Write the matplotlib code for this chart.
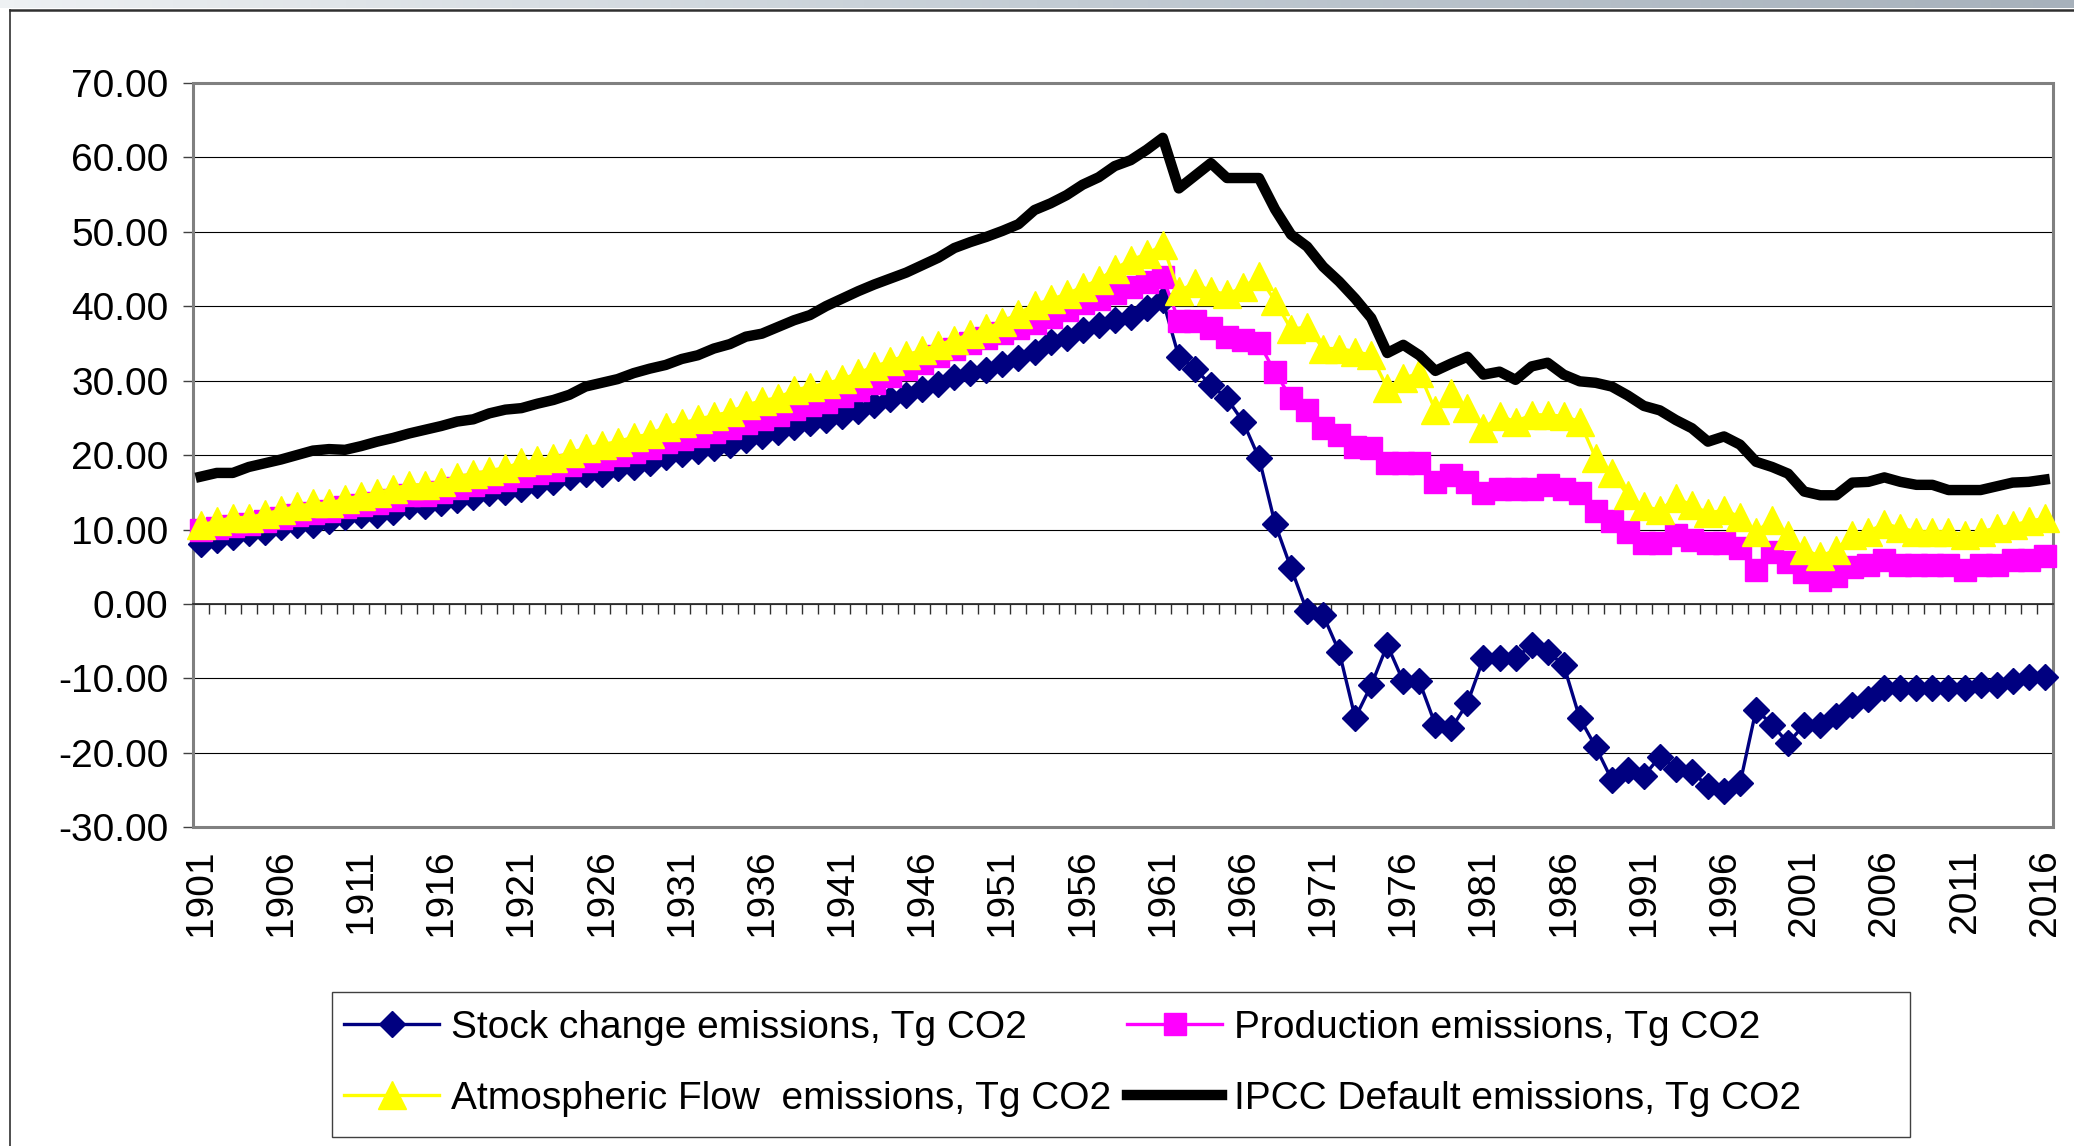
import numpy as np
import matplotlib
matplotlib.use("Agg")
import matplotlib.pyplot as plt
from matplotlib.lines import Line2D
from matplotlib.patches import Rectangle
from matplotlib.colors import LinearSegmentedColormap

plt.rcParams['font.family'] = ['Liberation Sans', 'DejaVu Sans']

years = list(range(1901, 2017))

stock = [8.1, 8.6, 9.0, 9.5, 9.7, 10.4, 10.6, 10.6, 11.1, 11.7,
         12.0, 12.0, 12.4, 13.1, 13.1, 13.5, 14.0, 14.4, 14.9, 15.1,
         15.5, 16.0, 16.4, 17.1, 17.5, 17.5, 18.2, 18.4, 18.9, 19.8,
         20.2, 20.5, 20.9, 21.4, 22.0, 22.5, 23.1, 23.8, 24.3, 24.7,
         25.3, 25.9, 26.7, 27.5, 28.0, 28.9, 29.6, 30.5, 31.0, 31.4,
         32.2, 33.0, 33.8, 35.2, 35.7, 36.8, 37.4, 38.1, 38.6, 39.8,
         40.8, 33.2, 31.6, 29.4, 27.6, 24.5, 19.6, 10.8, 4.8, -1.0,
         -1.5, -6.4, -15.3, -10.9, -5.5, -10.4, -10.4, -16.2, -16.7, -13.3,
         -7.3, -7.3, -7.3, -5.5, -6.4, -8.2, -15.3, -19.2, -23.6, -22.3,
         -23.1, -20.5, -22.1, -22.5, -24.5, -25.1, -24.1, -14.2, -16.2, -18.7,
         -16.2, -16.2, -15.1, -13.6, -12.7, -11.3, -11.3, -11.3, -11.3, -11.3,
         -11.3, -10.9, -10.9, -10.4, -9.8, -9.8]

production = [10.0, 10.2, 10.5, 10.8, 11.1, 11.6, 12.0, 12.2, 12.5, 13.0,
              13.3, 13.6, 14.0, 14.6, 14.7, 15.0, 15.6, 16.0, 16.4, 16.7,
              17.2, 17.6, 18.0, 18.7, 19.2, 19.5, 20.0, 20.4, 20.9, 21.8,
              22.2, 22.6, 23.1, 23.6, 24.3, 24.9, 25.4, 26.2, 26.7, 27.1,
              27.9, 28.8, 29.7, 30.6, 31.5, 32.4, 33.3, 34.2, 35.0, 35.7,
              36.4, 37.1, 37.7, 38.5, 39.5, 40.4, 41.0, 41.7, 42.5, 43.2,
              43.9, 38.0, 38.0, 37.0, 35.9, 35.5, 35.1, 31.1, 27.7, 26.0,
              23.6, 22.7, 21.1, 20.9, 18.9, 18.9, 18.9, 16.4, 17.3, 16.4,
              14.9, 15.5, 15.5, 15.5, 16.0, 15.5, 14.9, 12.5, 11.2, 9.6,
              8.2, 8.2, 9.3, 8.6, 8.2, 8.2, 7.5, 4.6, 7.0, 5.7,
              4.3, 3.2, 3.7, 5.0, 5.2, 5.9, 5.2, 5.2, 5.2, 5.2,
              4.6, 5.2, 5.2, 5.9, 5.9, 6.4]

atmospheric = [10.6, 11.1, 11.6, 11.6, 12.1, 12.6, 13.1, 13.5, 13.5, 14.1,
               14.5, 14.9, 15.5, 16.0, 16.0, 16.4, 17.1, 17.5, 17.9, 18.3,
               19.0, 19.3, 19.6, 20.3, 20.9, 21.4, 21.8, 22.4, 22.8, 23.8,
               24.3, 24.8, 25.3, 25.8, 26.7, 27.3, 27.7, 28.7, 29.2, 29.6,
               30.2, 31.0, 31.9, 32.6, 33.4, 34.1, 34.8, 35.5, 36.2, 37.0,
               37.9, 39.0, 40.2, 40.9, 41.6, 42.6, 43.5, 45.0, 46.2, 47.0,
               48.2, 42.0, 43.1, 42.0, 41.6, 42.5, 44.0, 40.7, 36.9, 37.2,
               34.3, 34.3, 33.9, 33.4, 29.0, 30.3, 31.0, 26.0, 28.3, 26.3,
               23.6, 25.2, 24.5, 25.4, 25.4, 25.2, 24.5, 19.6, 17.6, 14.6,
               13.1, 12.6, 14.2, 13.3, 12.2, 12.6, 11.7, 9.7, 11.3, 9.3,
               7.3, 6.4, 7.3, 9.3, 9.7, 10.8, 10.2, 9.7, 9.7, 9.7,
               9.3, 9.7, 10.2, 10.6, 11.1, 11.5]

ipcc = [17.1, 17.6, 17.6, 18.4, 18.9, 19.4, 20.0, 20.6, 20.8, 20.7,
        21.2, 21.8, 22.3, 22.9, 23.4, 23.9, 24.5, 24.8, 25.6, 26.1,
        26.3, 26.9, 27.4, 28.1, 29.2, 29.7, 30.2, 31.0, 31.6, 32.1,
        32.9, 33.4, 34.3, 34.9, 35.9, 36.3, 37.2, 38.1, 38.8, 40.0,
        41.0, 42.0, 42.9, 43.7, 44.5, 45.5, 46.5, 47.8, 48.6, 49.3,
        50.1, 51.0, 52.9, 53.8, 54.9, 56.3, 57.3, 58.8, 59.6, 61.0,
        62.6, 55.8, 57.5, 59.2, 57.2, 57.2, 57.2, 53.0, 49.6, 48.0,
        45.3, 43.3, 41.0, 38.4, 33.7, 34.8, 33.4, 31.3, 32.3, 33.2,
        30.8, 31.2, 30.1, 31.9, 32.4, 30.8, 29.9, 29.7, 29.2, 28.0,
        26.6, 26.0, 24.7, 23.6, 21.8, 22.5, 21.4, 19.1, 18.4, 17.5,
        15.1, 14.6, 14.6, 16.3, 16.4, 17.0, 16.4, 16.0, 16.0, 15.3,
        15.3, 15.3, 15.8, 16.3, 16.4, 16.7]

labels = ["Stock change emissions, Tg CO2",
          "Production emissions, Tg CO2",
          "Atmospheric Flow  emissions, Tg CO2",
          "IPCC Default emissions, Tg CO2"]

y_ticks = [-30, -20, -10, 0, 10, 20, 30, 40, 50, 60, 70]

W, H = 2074, 1146
fig = plt.figure(figsize=(W / 100, H / 100), dpi=100)

# slide-like header strip and frame
band = fig.add_axes([0, 1 - 8.5 / H, 1, 8.5 / H])
band.imshow(np.linspace(0, 1, 300)[None, :], aspect='auto',
            cmap=LinearSegmentedColormap.from_list('b', ['#eef1f3', '#c3ccd4', '#a7b1bb']))
band.axis('off')
fig.add_artist(Line2D([10 / W, 1], [1 - 9.5 / H] * 2, transform=fig.transFigure, color='#303030', lw=1.8))
fig.add_artist(Line2D([10 / W] * 2, [0, 1 - 9.5 / H], transform=fig.transFigure, color='#303030', lw=1.2))

left, right, top, bottom = 192.7, 2052.7, 82.7, 827.4
ax = fig.add_axes([left / W, 1 - bottom / H, (right - left) / W, (bottom - top) / H])

x = np.arange(len(years))
l1, = ax.plot(x, stock, color='#000080', lw=2.4, marker='D', ms=13, mec='#000080', clip_on=False, zorder=3)
l2, = ax.plot(x, production, color='#ff00ff', lw=2.4, marker='s', ms=16, mec='#ff00ff', clip_on=False, zorder=4)
l3, = ax.plot(x, atmospheric, color='#ffff00', lw=2.4, marker='^', ms=19.5, mec='#ffff00', clip_on=False, zorder=5)
l4, = ax.plot(x, ipcc, color='black', lw=7.5, solid_joinstyle='round', clip_on=False, zorder=6)

ax.set_xlim(-0.5, len(years) - 0.5)
ax.set_ylim(-30, 70)

ax.set_yticks(y_ticks, labels=['%.2f' % v for v in y_ticks])
ax.tick_params(axis='y', direction='out', length=7.5, width=1, color='#404040', labelsize=28, pad=10)
ax.yaxis.grid(True, color='black', lw=0.8)
ax.set_axisbelow(True)

for s in ['left', 'right', 'top']:
    ax.spines[s].set_visible(False)
ax.spines['bottom'].set_position(('data', 0))
ax.spines['bottom'].set_color('#303030')
ax.spines['bottom'].set_linewidth(1.3)
ax.set_xticks(np.arange(-0.5, len(years), 1))
ax.tick_params(axis='x', direction='out', length=7.5, width=1, color='#303030', labelbottom=False)

ax.add_patch(Rectangle((0, 0), 1, 1, transform=ax.transAxes, fill=False,
                       ec='#808080', lw=2.2, clip_on=False, zorder=2))

sec = ax.secondary_xaxis('bottom')
sec.set_xticks(x[::5], labels=[str(y) for y in years[::5]])
sec.tick_params(length=0, pad=16, labelsize=28, labelrotation=90)
sec.spines['bottom'].set_visible(False)

# legend box (Excel draws it wider than its entries)
fig.add_artist(Rectangle((331.6 / W, 1 - 1136.7 / H), (1910 - 331.6) / W, (1136.7 - 991.7) / H,
                         transform=fig.transFigure, fill=False, ec='#404040', lw=1.0))
fig.legend([l1, l3, l2, l4], [labels[0], labels[2], labels[1], labels[3]],
           ncol=2, loc='upper left', bbox_to_anchor=(344 / W, 1 - 1010 / H),
           fontsize=28, frameon=False, borderpad=0, borderaxespad=0,
           handlelength=2.45, handletextpad=0.3,
           columnspacing=0.41, labelspacing=0.9)

fig.savefig('out.png', dpi=100)
